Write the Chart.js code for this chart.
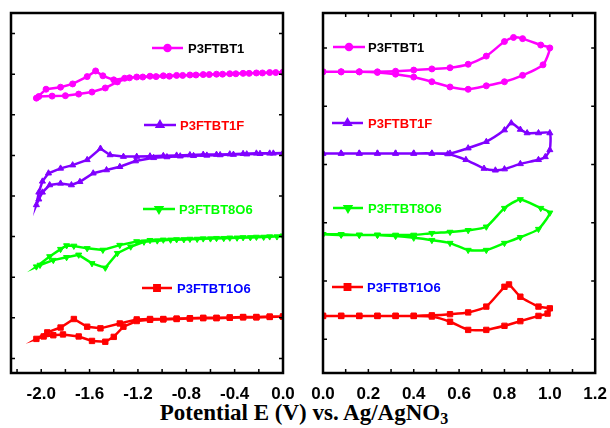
<!DOCTYPE html>
<html>
<head>
<meta charset="utf-8">
<script src="https://cdn.jsdelivr.net/npm/chart.js"></script>
<style>
  html, body { margin: 0; padding: 0; background: #fff; }
  #wrap { position: relative; width: 610px; height: 428px; overflow: hidden; }
  canvas { position: absolute; top: 0; }
  #left { left: 0; }
  #right { left: 300px; }
  #xtitle {
    position: absolute; left: 0; top: 401px; width: 608px; text-align: center;
    font: bold 23px "Liberation Serif", "Times New Roman", serif; line-height: 23px; color: #000;
  }
  #xtitle sub { font-size: 16px; line-height: 0; vertical-align: -4px; }
</style>
</head>
<body>
<div id="wrap">
  <canvas id="left" width="300" height="400"></canvas>
  <canvas id="right" width="310" height="400"></canvas>
  <div id="xtitle">Potential E (V) vs. Ag/AgNO<sub>3</sub></div>
</div>
<script>
// polymer names, in the order the curves are stacked (top to bottom)
const names = ['P3FTBT1', 'P3FTBT1F', 'P3FTBT8O6', 'P3FTBT1O6'];

// tick values
const leftXLabels = [-2.0, -1.6, -1.2, -0.8, -0.4, 0.0];
const leftXMarks = [-2.2, -2.0, -1.8, -1.6, -1.4, -1.2, -1.0, -0.8, -0.6, -0.4, -0.2, 0.0];
const leftYMarks = [0.36, 1.36, 2.36, 3.36, 4.36, 5.36, 6.36, 7.36, 8.36];
const rightXLabels = [0.0, 0.2, 0.4, 0.6, 0.8, 1.0, 1.2];
const rightXMarks = [0.1, 0.2, 0.3, 0.4, 0.5, 0.6, 0.7, 0.8, 0.9, 1.0, 1.1];
const rightYMarks = [0.58, 1.58, 2.58, 3.58, 4.58, 5.58];

// reduction scans (left panel), [E, current offset]
const p1Left = [
  [0.00,7.40],[-0.11,7.40],[-0.22,7.39],[-0.33,7.38],[-0.44,7.37],[-0.55,7.36],[-0.66,7.35],
  [-0.77,7.34],[-0.88,7.33],[-0.99,7.32],[-1.10,7.31],[-1.21,7.29],[-1.31,7.26],[-1.40,7.22],
  [-1.49,7.32],[-1.55,7.44],[-1.62,7.30],[-1.74,7.12],[-1.84,7.04],[-1.96,6.99],[-2.04,6.77],
  [-2.02,6.81],[-1.91,6.82],[-1.80,6.83],[-1.69,6.87],[-1.58,6.92],[-1.47,7.02],[-1.37,7.17],
  [-1.27,7.27],[-1.16,7.29],[-1.05,7.30],[-0.94,7.31],[-0.83,7.33],[-0.72,7.34],[-0.61,7.35],
  [-0.50,7.36],[-0.39,7.37],[-0.28,7.38],[-0.17,7.39],[-0.06,7.40],[0.00,7.41]
];
const p1fLeft = [
  [0.00,5.40],[-0.11,5.41],[-0.22,5.41],[-0.33,5.40],[-0.44,5.39],[-0.55,5.38],[-0.66,5.38],
  [-0.77,5.37],[-0.88,5.36],[-0.99,5.35],[-1.10,5.34],[-1.21,5.33],[-1.32,5.33],[-1.43,5.37],
  [-1.51,5.53],[-1.62,5.25],[-1.74,5.12],[-1.84,5.04],[-1.94,4.92],[-1.99,4.72],[-2.02,4.45],
  [-2.04,4.14],[-2.02,4.28],[-1.99,4.45],[-1.93,4.63],[-1.84,4.67],[-1.75,4.63],[-1.68,4.71],
  [-1.57,4.92],[-1.46,5.00],[-1.35,5.08],[-1.22,5.22],[-1.07,5.30],[-0.96,5.32],[-0.85,5.34],
  [-0.74,5.35],[-0.63,5.36],[-0.52,5.37],[-0.41,5.38],[-0.30,5.39],[-0.19,5.40],[-0.08,5.41],[0.00,5.42]
];
const p8o6Left = [
  [0.00,3.37],[-0.11,3.36],[-0.22,3.35],[-0.33,3.34],[-0.44,3.33],[-0.55,3.32],[-0.66,3.31],
  [-0.77,3.30],[-0.88,3.29],[-0.99,3.28],[-1.10,3.27],[-1.21,3.24],[-1.35,3.15],[-1.49,3.03],
  [-1.62,3.07],[-1.73,3.13],[-1.79,3.14],[-1.84,3.05],[-1.93,2.87],[-2.04,2.62],
  [-2.01,2.66],[-1.90,2.78],[-1.79,2.85],[-1.69,2.91],[-1.58,2.70],[-1.47,2.59],[-1.37,2.95],
  [-1.26,3.11],[-1.15,3.23],[-1.04,3.26],[-0.93,3.28],[-0.82,3.29],[-0.71,3.30],[-0.60,3.31],
  [-0.49,3.32],[-0.38,3.33],[-0.27,3.34],[-0.16,3.35],[-0.05,3.36],[0.00,3.38]
];
const p1o6Left = [
  [0.00,1.39],[-0.11,1.39],[-0.22,1.38],[-0.33,1.38],[-0.44,1.37],[-0.55,1.36],[-0.66,1.36],
  [-0.77,1.35],[-0.88,1.34],[-0.99,1.33],[-1.10,1.33],[-1.21,1.32],[-1.35,1.22],[-1.51,1.10],
  [-1.62,1.14],[-1.73,1.33],[-1.84,1.12],[-1.95,1.00],[-2.04,0.84],
  [-1.98,0.90],[-1.90,0.93],[-1.82,0.95],[-1.69,0.90],[-1.58,0.79],[-1.47,0.77],[-1.40,0.89],
  [-1.32,1.14],[-1.21,1.28],[-1.10,1.31],[-0.99,1.32],[-0.88,1.33],[-0.77,1.34],[-0.66,1.35],
  [-0.55,1.35],[-0.44,1.36],[-0.33,1.37],[-0.22,1.37],[-0.11,1.38],[0.00,1.39]
];

// oxidation scans (right panel)
const p1Right = [
  [0.00,5.17],[0.08,5.17],[0.16,5.17],[0.24,5.17],[0.32,5.18],[0.40,5.20],[0.48,5.22],[0.56,5.24],
  [0.64,5.30],[0.72,5.44],[0.80,5.69],[0.84,5.76],[0.88,5.74],[0.96,5.63],[1.00,5.58],
  [0.97,5.29],[0.88,5.11],[0.80,5.00],[0.72,4.93],[0.64,4.87],[0.56,4.91],[0.48,5.00],[0.40,5.08],
  [0.32,5.13],[0.24,5.16],[0.16,5.17],[0.08,5.17],[0.00,5.17]
];
const p1fRight = [
  [0.00,3.77],[0.08,3.77],[0.16,3.77],[0.24,3.77],[0.32,3.77],[0.40,3.77],[0.48,3.77],[0.56,3.77],
  [0.64,3.86],[0.72,3.97],[0.80,4.17],[0.83,4.29],[0.87,4.18],[0.90,4.12],[0.95,4.12],[1.00,4.12],
  [1.00,3.83],[0.98,3.71],[0.95,3.66],[0.87,3.59],[0.80,3.50],[0.76,3.48],[0.71,3.51],[0.63,3.66],
  [0.55,3.76],[0.48,3.77],[0.40,3.77],[0.32,3.77],[0.24,3.77],[0.16,3.77],[0.08,3.77],[0.00,3.77]
];
const p8o6Right = [
  [0.00,2.38],[0.08,2.37],[0.16,2.37],[0.24,2.37],[0.32,2.37],[0.40,2.37],[0.48,2.40],[0.56,2.42],
  [0.64,2.45],[0.72,2.51],[0.80,2.83],[0.87,2.98],[0.96,2.83],[1.00,2.75],
  [0.95,2.47],[0.87,2.33],[0.80,2.23],[0.72,2.11],[0.64,2.11],[0.56,2.23],[0.48,2.28],[0.40,2.32],
  [0.32,2.35],[0.24,2.37],[0.16,2.37],[0.08,2.38],[0.00,2.38]
];
const p1o6Right = [
  [0.00,0.98],[0.08,0.98],[0.16,0.98],[0.24,0.98],[0.32,0.98],[0.40,0.98],[0.48,0.99],[0.56,1.01],
  [0.64,1.04],[0.72,1.14],[0.80,1.48],[0.82,1.52],[0.87,1.31],[0.95,1.14],[1.00,1.11],
  [0.99,1.02],[0.95,0.98],[0.87,0.89],[0.80,0.81],[0.72,0.74],[0.64,0.74],[0.56,0.88],[0.48,0.97],
  [0.40,0.98],[0.32,0.98],[0.24,0.98],[0.16,0.98],[0.08,0.98],[0.00,0.98]
];

// styles
const lineColors = ['#ff00ff', '#8000ff', '#00ff00', '#ff0000'];
const textColors = ['#000000', '#ff0000', '#00ff00', '#0000ff'];
const markerStyles = [
  { style: 'circle', rot: 0, r: 3 },
  { style: 'triangle', rot: 0, r: 3.5 },
  { style: 'triangle', rot: 180, r: 3.5 },
  { style: 'rect', rot: 0, r: 3.8 }
];
const tickFont = { family: '"Liberation Sans", Arial, sans-serif', weight: 'bold', size: 17 };

// box around the plot + small inward ticks
const framePlugin = {
  id: 'frame',
  afterDraw(chart, args, o) {
    const { ctx, chartArea: a, scales: { x, y } } = chart;
    ctx.save();
    ctx.strokeStyle = '#000';
    ctx.lineWidth = 1.5;
    ctx.beginPath();
    o.xMarks.forEach(v => {
      const px = x.getPixelForValue(v);
      ctx.moveTo(px, a.bottom); ctx.lineTo(px, a.bottom - 4);
      if (o.topTicks) { ctx.moveTo(px, a.top); ctx.lineTo(px, a.top + 4); }
    });
    o.yMarks.forEach(v => {
      const py = y.getPixelForValue(v);
      ctx.moveTo(a.left, py); ctx.lineTo(a.left + 4, py);
      ctx.moveTo(a.right, py); ctx.lineTo(a.right - 4, py);
    });
    ctx.stroke();
    ctx.lineWidth = 2.5;
    ctx.strokeRect(a.left, a.top, a.right - a.left, a.bottom - a.top);
    ctx.restore();
  }
};

// legend entries written next to each curve
const inlineLegend = {
  id: 'inlineLegend',
  afterDraw(chart, args, o) {
    const ctx = chart.ctx;
    ctx.save();
    o.items.forEach((it, i) => {
      ctx.strokeStyle = lineColors[i];
      ctx.fillStyle = lineColors[i];
      ctx.lineWidth = 2.5;
      ctx.beginPath();
      ctx.moveTo(it.x1, it.y); ctx.lineTo(it.x2, it.y);
      ctx.stroke();
      Chart.helpers.drawPoint(ctx, {
        pointStyle: markerStyles[i].style, rotation: markerStyles[i].rot,
        radius: markerStyles[i].r, borderWidth: 1
      }, (it.x1 + it.x2) / 2, it.y);
      ctx.fillStyle = textColors[i];
      ctx.font = 'bold 13px "Liberation Sans", Arial, sans-serif';
      ctx.textBaseline = 'middle';
      ctx.textAlign = 'left';
      ctx.fillText(names[i], it.tx, it.y + 1);
    });
    ctx.restore();
  }
};

function makeChart(id, curves, cfg) {
  return new Chart(document.getElementById(id), {
    type: 'scatter',
    data: {
      datasets: curves.map((pts, i) => ({
        label: names[i],
        data: pts.map(p => ({ x: p[0], y: p[1] })),
        showLine: true,
        tension: cfg.tension,
        borderColor: lineColors[i],
        backgroundColor: lineColors[i],
        borderWidth: 2.5,
        pointStyle: markerStyles[i].style,
        pointRotation: markerStyles[i].rot,
        pointRadius: markerStyles[i].r,
        pointBorderWidth: 1,
        pointBorderColor: lineColors[i],
        pointBackgroundColor: lineColors[i]
      }))
    },
    options: {
      responsive: false,
      animation: false,
      layout: { padding: cfg.padding },
      plugins: {
        legend: { display: false },
        tooltip: { enabled: false },
        frame: { xMarks: cfg.xMarks, yMarks: cfg.yMarks, topTicks: cfg.topTicks },
        inlineLegend: { items: cfg.legend }
      },
      scales: {
        x: {
          type: 'linear',
          min: cfg.xMin, max: cfg.xMax,
          grid: { display: false },
          border: { display: false },
          ticks: {
            font: tickFont, color: '#000', padding: 3, maxRotation: 0, autoSkip: false,
            callback: v => v.toFixed(1)
          },
          afterBuildTicks: s => { s.ticks = cfg.xLabels.map(v => ({ value: v })); },
          afterFit: s => { s.height = 27; }
        },
        y: { type: 'linear', display: false, min: 0, max: cfg.yMax }
      }
    },
    plugins: [framePlugin, inlineLegend]
  });
}

makeChart('left', [p1Left, p1fLeft, p8o6Left, p1o6Left], {
  padding: { left: 11, top: 13, right: 17, bottom: 0 },
  xMin: -2.25, xMax: 0.0, yMax: 8.867, tension: 0,
  xLabels: leftXLabels, xMarks: leftXMarks, yMarks: leftYMarks, topTicks: false,
  legend: [
    { x1: 152, x2: 183, y: 48, tx: 188 },
    { x1: 144, x2: 176, y: 125, tx: 180 },
    { x1: 143, x2: 175, y: 209, tx: 179 },
    { x1: 142, x2: 172, y: 288, tx: 177 }
  ]
});

makeChart('right', [p1Right, p1fRight, p8o6Right, p1o6Right], {
  padding: { left: 23, top: 13, right: 14, bottom: 0 },
  xMin: 0.0, xMax: 1.2, yMax: 6.18, tension: 0.2,
  xLabels: rightXLabels, xMarks: rightXMarks, yMarks: rightYMarks, topTicks: true,
  legend: [
    { x1: 33, x2: 65, y: 47, tx: 68 },
    { x1: 32, x2: 63, y: 123, tx: 68 },
    { x1: 33, x2: 63, y: 208, tx: 68 },
    { x1: 32, x2: 63, y: 287, tx: 67 }
  ]
});
</script>
</body>
</html>
